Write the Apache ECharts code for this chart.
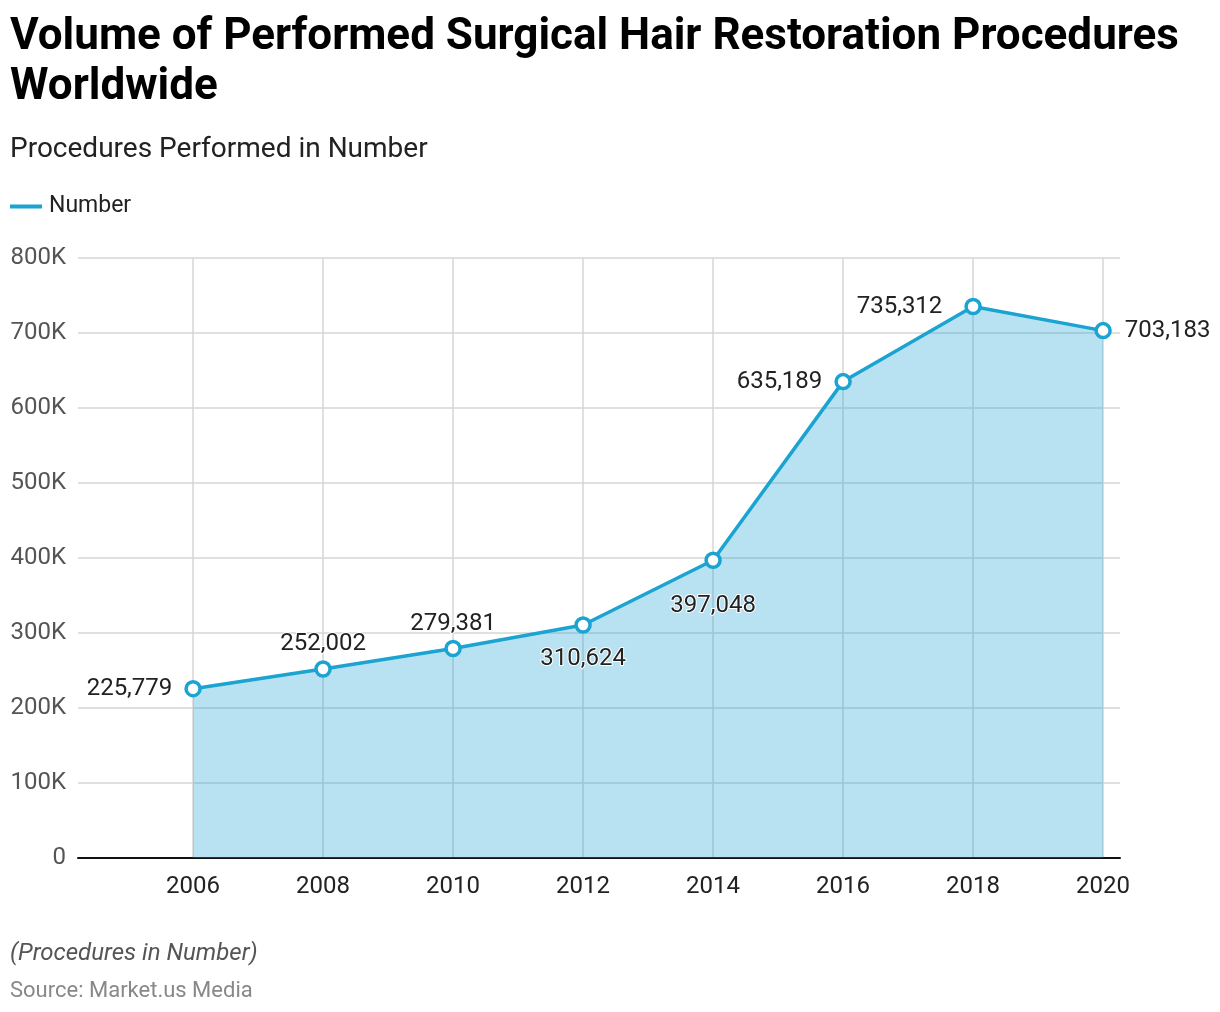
<!DOCTYPE html>
<html>
<head>
<meta charset="utf-8">
<script src="https://cdn.jsdelivr.net/npm/echarts@6/dist/echarts.min.js"></script>
<style>
html,body{margin:0;padding:0;background:#fff;}
#c{width:1220px;height:1012px;}
</style>
</head>
<body>
<div id="c"></div>
<script>
const years = [2006, 2008, 2010, 2012, 2014, 2016, 2018, 2020];
const values = [225779, 252002, 279381, 310624, 397048, 635189, 735312, 703183];
const labelPositions = ['left', 'top', 'top', 'bottom', 'bottom', 'left', 'left', 'right'];
const labelDistances = [12, 4, 4, 13, 25, 12, 22, 13];

const chart = echarts.init(document.getElementById('c'));
const font = 'Roboto, "Noto Sans", sans-serif';

const seriesData = years.map((y, i) => ({
  value: [y, values[i]],
  label: { position: labelPositions[i], distance: labelDistances[i] }
}));

chart.setOption({
  animation: false,
  textStyle: { fontFamily: font },
  title: [
    { text: 'Volume of Performed Surgical Hair Restoration Procedures\nWorldwide', left: 10, top: 13, padding: 0,
      textStyle: { fontFamily: font, fontSize: 44, fontWeight: 'bold', color: '#000', lineHeight: 50 } },
    { text: 'Procedures Performed in Number', left: 10, top: 136, padding: 0,
      textStyle: { fontFamily: font, fontSize: 28, fontWeight: 'normal', color: '#222' } },
    { text: '(Procedures in Number)', left: 10, top: 942, padding: 0,
      textStyle: { fontFamily: font, fontSize: 24, fontStyle: 'italic', fontWeight: 'normal', color: '#555' } },
    { text: 'Source: Market.us Media', left: 10, top: 980, padding: 0,
      textStyle: { fontFamily: font, fontSize: 22, fontWeight: 'normal', color: '#888' } }
  ],
  legend: {
    left: 10, top: 195, padding: 0, itemWidth: 32, itemHeight: 4, itemGap: 10,
    data: [{ name: 'Number', icon: 'rect', itemStyle: { color: '#1BA3D1', borderWidth: 0 } }],
    textStyle: { fontFamily: font, fontSize: 23, color: '#222', padding: [0, 0, 0, 2] }
  },
  grid: { left: 78, right: 100, top: 258, bottom: 154, containLabel: false },
  xAxis: {
    type: 'value', min: 2004.23, max: 2020.26,
    axisLine: { show: true, onZero: false, lineStyle: { color: '#111', width: 2 } },
    axisTick: { show: false, customValues: years },
    axisLabel: { customValues: years, fontFamily: font, fontSize: 24, color: '#222', margin: 17,
      formatter: v => String(v) },
    splitLine: { show: true, lineStyle: { color: '#d6d6d6', width: 1.5 } }
  },
  yAxis: {
    type: 'value', min: 0, max: 800000, interval: 100000,
    axisLine: { show: false }, axisTick: { show: false },
    axisLabel: { fontFamily: font, fontSize: 24, color: '#555', margin: 12,
      formatter: v => v === 0 ? '0' : (v / 1000) + 'K' },
    splitLine: { show: true, lineStyle: { color: '#d6d6d6', width: 1.5 } }
  },
  series: [{
    name: 'Number', type: 'line', data: seriesData,
    symbol: 'circle', symbolSize: 14,
    itemStyle: { color: '#fff', borderColor: '#1BA3D1', borderWidth: 3.5 },
    lineStyle: { color: '#1BA3D1', width: 3.5 },
    areaStyle: { color: 'rgba(27,163,209,0.31)', opacity: 1 },
    z: 3,
    label: { show: true, fontFamily: font, fontSize: 24, color: '#222',
      textBorderColor: '#fff', textBorderWidth: 2,
      formatter: p => p.value[1].toLocaleString('en-US') }
  }]
});
</script>
</body>
</html>
